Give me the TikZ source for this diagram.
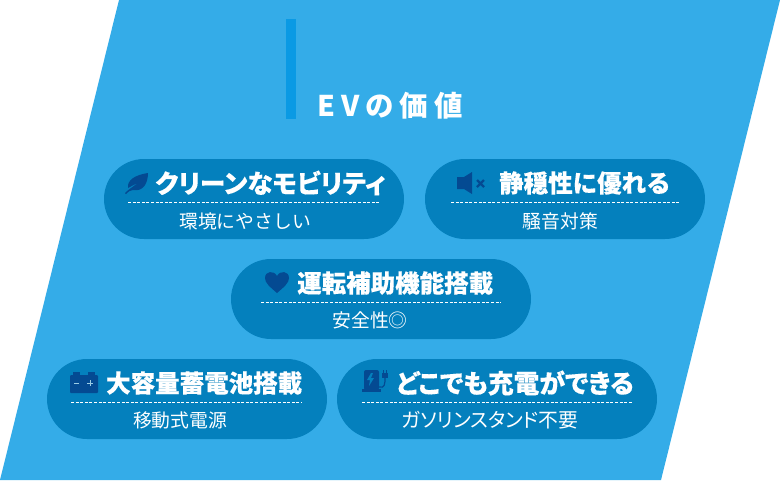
\documentclass[tikz,border=0pt]{standalone}
\usepackage{fontspec}
\setmainfont{Noto Sans CJK JP}
\newfontfamily\cjk{Noto Sans CJK JP}
\definecolor{bgblue}{HTML}{34ACE8}
\definecolor{pillblue}{HTML}{0480BD}
\definecolor{barblue}{HTML}{0A9AE4}
\definecolor{icondark}{HTML}{044A92}
\tikzset{
  pill/.style={fill=pillblue,draw=none,rounded corners=40pt},
  headtext/.style={text=white,inner sep=0pt,anchor=west,font=\cjk\bfseries\fontsize{24.5}{28}\selectfont\addfontfeature{FakeBold=0.25}},
  headpalt/.style={text=white,inner sep=0pt,anchor=west,font=\cjk\bfseries\fontsize{25.7}{28}\selectfont\addfontfeature{RawFeature=+palt,FakeBold=0.25}},
  subtext/.style={text=white,inner sep=0pt,font=\cjk\fontsize{18.8}{22}\selectfont},
  subpalt/.style={text=white,inner sep=0pt,font=\cjk\fontsize{19.8}{22}\selectfont\addfontfeature{RawFeature=+palt}},
  sepline/.style={draw=white,line width=0.8pt,dash pattern=on 3pt off 1.6pt},
  icon/.style={fill=icondark,draw=none}
}
\begin{document}
\begin{tikzpicture}[x=1pt,y=-1pt]
\useasboundingbox (0,0) rectangle (780,480);
\fill[white] (0,0) rectangle (780,480);
\fill[bgblue] (119,0) -- (780,0) -- (661,480) -- (0,480) -- cycle;
\fill[barblue] (286,19) rectangle (296,119);
\node[text=white,inner sep=0pt,anchor=west,font=\cjk\bfseries\fontsize{28.5}{30}\selectfont\addfontfeature{LetterSpace=21}] (ttl) at (317,106) {EVの価値};

% pills
\fill[pill] (104,159) rectangle (404,239);
\fill[pill] (425,159) rectangle (705,239);
\fill[pill] (231,259) rectangle (531,339);
\fill[pill] (47,359) rectangle (327,439);
\fill[pill] (337,359) rectangle (657,439);

% separators
\draw[sepline] (128,202.5) -- (380,202.5);
\draw[sepline] (451,202.5) -- (679,202.5);
\draw[sepline] (261,302.5) -- (501,302.5);
\draw[sepline] (71,402.5) -- (302,402.5);
\draw[sepline] (362,402.5) -- (632,402.5);

% headings
\node[headpalt] (h1) at (155,183) {クリーンなモビリティ};
\node[headtext] (h2) at (499,183) {静穏性に優れる};
\node[headtext] (h3) at (297,283) {運転補助機能搭載};
\node[headtext] (h4) at (106,383) {大容量蓄電池搭載};
\node[headpalt] (h5) at (396,383) {どこでも充電ができる};

% sub texts
\node[subtext] (s1) at (245,221) {環境にやさしい};
\node[subtext] (s2) at (560.5,221) {騒音対策};
\node[subtext] (s3) at (370,320) {安全性◎};
\node[subtext] (s4) at (180,420) {移動式電源};
\node[subpalt] (s5) at (490,420) {ガソリンスタンド不要};

% leaf icon
\fill[icon] (125,193) .. controls (128,190) and (131,188) .. (138,183)
  .. controls (133,185) and (130,187) .. (128,188)
  .. controls (127,180) and (135,175) .. (148,173)
  .. controls (148,182) and (144,192) .. (133,190)
  .. controls (130,190) and (128,192) .. (126,194) -- cycle;

% speaker icon
\fill[icon] (457,177) -- (464,177) -- (472,172) -- (472,194) -- (464,189) -- (457,189) -- cycle;
\draw[icondark,line width=2.4pt] (477,180) -- (484,187) (484,180) -- (477,187);

% heart icon
\fill[icon] (277,293) .. controls (270,287) and (265,283) .. (265,278)
  .. controls (265,271) and (274,270) .. (277,276)
  .. controls (280,270) and (289,271) .. (289,278)
  .. controls (289,283) and (284,287) .. (277,293) -- cycle;

% battery icon
\fill[icon] (73,372) rectangle (80,376);
\fill[icon] (88,372) rectangle (95,376);
\fill[icon,rounded corners=1pt] (70,375) rectangle (98,393);
\draw[white!60!pillblue,line width=1pt] (74,383) -- (79,383) (87,383) -- (93,383) (90,380) -- (90,386);

% charger icon
\fill[icon,rounded corners=2pt] (364,370) rectangle (379,390);
\fill[icon] (362,389) rectangle (381,392);
\fill[pillblue] (371,373) -- (367,380) -- (370,380) -- (369,386) -- (374,378) -- (371,378) -- (373,373) -- cycle;
\draw[icondark,line width=1.2pt] (379,387) .. controls (385,389) and (385,383) .. (385,378);
\fill[icon] (382,373) rectangle (388,378);
\draw[icondark,line width=1pt] (383.5,373) -- (383.5,370) (386.5,373) -- (386.5,370);
\end{tikzpicture}
\end{document}
